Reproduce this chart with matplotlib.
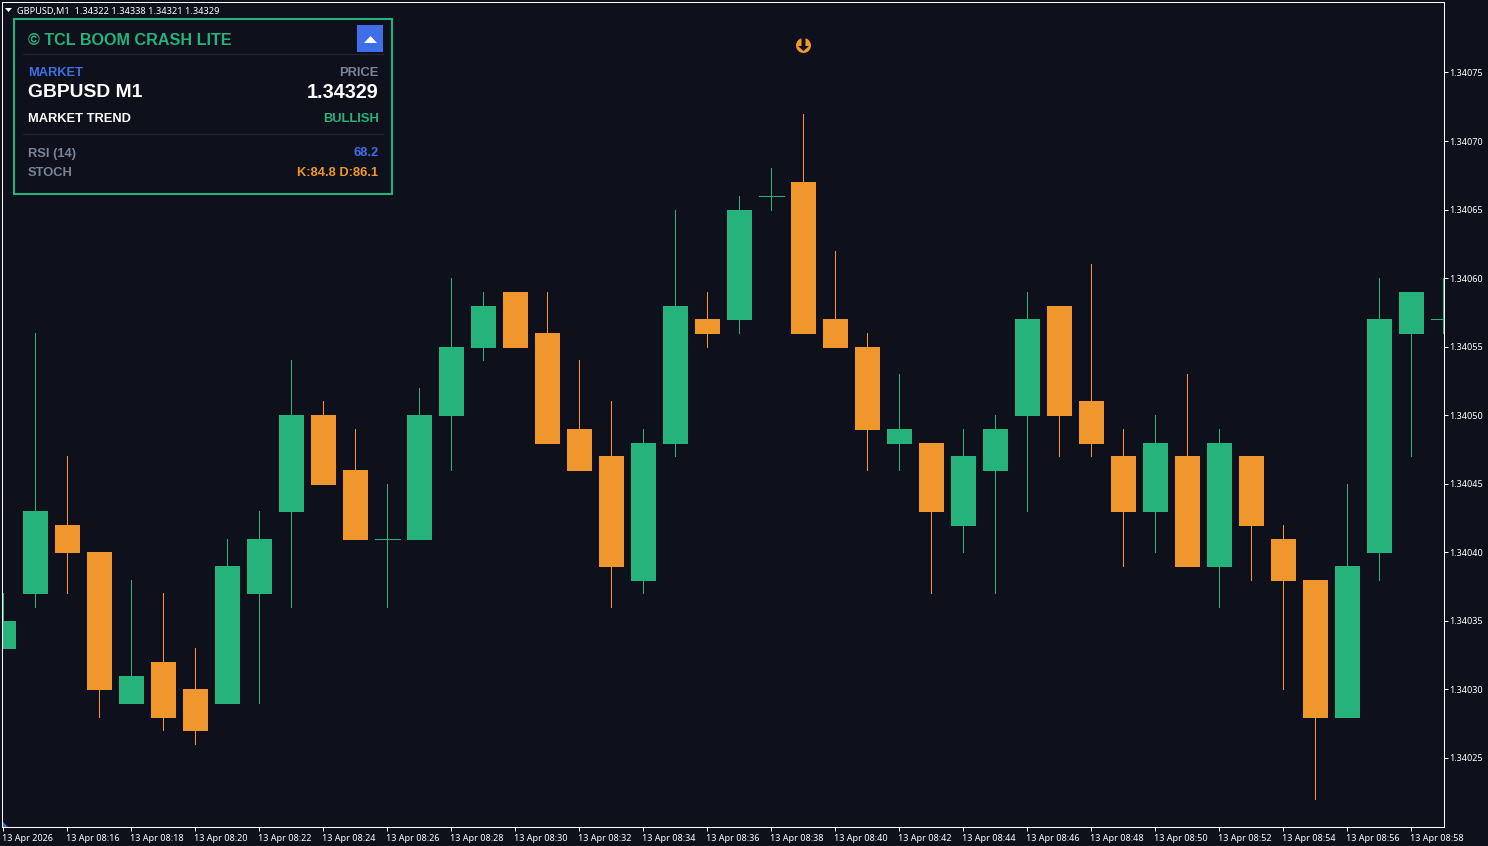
import matplotlib
matplotlib.use("Agg")
import matplotlib.pyplot as plt
from matplotlib.patches import Rectangle, Polygon, Circle
from matplotlib.transforms import ScaledTranslation

BG = '#0e111b'
GREEN = '#25b37b'
ORANGE = '#ef972c'
BLUE = '#3f6fe8'
GREY = '#7a8499'
LINE = '#1f2533'

opens = [1.34033, 1.34037, 1.34042, 1.34040, 1.34029, 1.34032, 1.34030, 1.34029, 1.34037, 1.34043,
         1.34050, 1.34046, 1.34041, 1.34041, 1.34050, 1.34055, 1.34059, 1.34056, 1.34049, 1.34047,
         1.34038, 1.34048, 1.34057, 1.34057, 1.34066, 1.34067, 1.34057, 1.34055, 1.34048, 1.34048,
         1.34042, 1.34046, 1.34050, 1.34058, 1.34051, 1.34047, 1.34043, 1.34047, 1.34039, 1.34047,
         1.34041, 1.34038, 1.34028, 1.34040, 1.34056, 1.34057]
closes = [1.34035, 1.34043, 1.34040, 1.34030, 1.34031, 1.34028, 1.34027, 1.34039, 1.34041, 1.34050,
          1.34045, 1.34041, 1.34041, 1.34050, 1.34055, 1.34058, 1.34055, 1.34048, 1.34046, 1.34039,
          1.34048, 1.34058, 1.34056, 1.34065, 1.34066, 1.34056, 1.34055, 1.34049, 1.34049, 1.34043,
          1.34047, 1.34049, 1.34057, 1.34050, 1.34048, 1.34043, 1.34048, 1.34039, 1.34048, 1.34042,
          1.34038, 1.34028, 1.34039, 1.34057, 1.34059, 1.34057]
highs = [1.34037, 1.34056, 1.34047, 1.34040, 1.34038, 1.34037, 1.34033, 1.34041, 1.34043, 1.34054,
         1.34051, 1.34049, 1.34045, 1.34052, 1.34060, 1.34059, 1.34059, 1.34059, 1.34054, 1.34051,
         1.34049, 1.34065, 1.34059, 1.34066, 1.34068, 1.34072, 1.34062, 1.34056, 1.34053, 1.34048,
         1.34049, 1.34050, 1.34059, 1.34058, 1.34061, 1.34049, 1.34050, 1.34053, 1.34049, 1.34047,
         1.34042, 1.34038, 1.34045, 1.34060, 1.34059, 1.34060]
lows = [1.34033, 1.34036, 1.34037, 1.34028, 1.34029, 1.34027, 1.34026, 1.34029, 1.34029, 1.34036,
        1.34045, 1.34041, 1.34036, 1.34041, 1.34046, 1.34054, 1.34055, 1.34048, 1.34046, 1.34036,
        1.34037, 1.34047, 1.34055, 1.34056, 1.34065, 1.34056, 1.34055, 1.34046, 1.34046, 1.34037,
        1.34040, 1.34037, 1.34043, 1.34047, 1.34047, 1.34039, 1.34040, 1.34039, 1.34036, 1.34038,
        1.34030, 1.34022, 1.34028, 1.34038, 1.34047, 1.34056]

price_ticks = [1.34025, 1.34030, 1.34035, 1.34040, 1.34045, 1.34050, 1.34055, 1.34060, 1.34065, 1.34070, 1.34075]
time_labels = ['13 Apr 2026', '13 Apr 08:16', '13 Apr 08:18', '13 Apr 08:20', '13 Apr 08:22', '13 Apr 08:24',
               '13 Apr 08:26', '13 Apr 08:28', '13 Apr 08:30', '13 Apr 08:32', '13 Apr 08:34', '13 Apr 08:36',
               '13 Apr 08:38', '13 Apr 08:40', '13 Apr 08:42', '13 Apr 08:44', '13 Apr 08:46', '13 Apr 08:48',
               '13 Apr 08:50', '13 Apr 08:52', '13 Apr 08:54', '13 Apr 08:56', '13 Apr 08:58']

W, H = 1488, 846
fig = plt.figure(figsize=(W / 100, H / 100), dpi=100, facecolor=BG)
ax = fig.add_axes([2 / W, 1 - 827 / H, 1442 / W, 825 / H], facecolor=BG)

for i in range(len(opens)):
    c = GREEN if closes[i] >= opens[i] else ORANGE
    ax.vlines(i, lows[i], highs[i], color=c, lw=0.72, antialiased=False)
    if opens[i] == closes[i]:
        ax.hlines(opens[i], i - 0.39, i + 0.39, color=c, lw=0.72, antialiased=False)
    else:
        ax.bar(i, abs(closes[i] - opens[i]), 0.76, bottom=min(opens[i], closes[i]), color=c,
               edgecolor=c, linewidth=0.5, antialiased=False)

ax.set_xlim(-0.0375, 45.025)
ax.set_ylim(1.3401996, 1.3408014)
ax.yaxis.tick_right()
ax.set_yticks(price_ticks)
ax.set_yticklabels(['%.5f' % p for p in price_ticks])
ax.set_xticks(range(0, 46, 2))
ax.set_xticklabels(time_labels, ha='left')
ax.tick_params(colors='white', length=3, width=0.72, labelsize=6.5, pad=2)
ax.tick_params(axis='y', pad=1)
for s in ax.spines.values():
    s.set_color('white')
    s.set_linewidth(0.72)
plt.setp(ax.get_xticklabels() + ax.get_yticklabels(), family='Noto Sans')
for lab in ax.get_xticklabels():
    lab.set_transform(lab.get_transform() + ScaledTranslation(-0.01, 0, fig.dpi_scale_trans))

# overlay in screen pixels for the panel and the small chart objects
ov = fig.add_axes([0, 0, 1, 1])
ov.set_xlim(0, W)
ov.set_ylim(H, 0)
ov.axis('off')

ov.add_patch(Polygon([(5, 8), (12, 8), (8.5, 12)], color='white', lw=0))
ov.text(17, 11.2, 'GBPUSD,M1  1.34322 1.34338 1.34321 1.34329', color='white', fontsize=6.6,
        family='Noto Sans', va='center')
ov.add_patch(Polygon([(3, 822), (3, 827), (8, 827)], color=BLUE, lw=0))

ov.add_patch(Rectangle((14, 19), 378, 175, fc=BG, ec=GREEN, lw=1.5))
ov.plot([23, 383], [54.5, 54.5], color=LINE, lw=0.9)
ov.plot([23, 383], [134.5, 134.5], color=LINE, lw=0.9)
ov.add_patch(Rectangle((357, 25), 26, 27, fc=BLUE, ec='none'))
ov.add_patch(Polygon([(364, 43), (377, 43), (370.5, 36)], color='white', lw=0))


def label(x, y, s, c, size=9.3, ha='left'):
    ov.text(x, y, s, color=c, fontsize=size, ha=ha, va='center', family='Liberation Sans', weight='bold')


label(28, 40.5, '\u00a9 TCL BOOM CRASH LITE', GREEN, 11.6)
label(28, 73.2, 'MARKET', BLUE)
label(378, 73.2, 'PRICE', GREY, ha='right')
label(28, 92.8, 'GBPUSD M1', 'white', 13.9)
label(378, 92.8, '1.34329', 'white', 14.2, 'right')
label(28, 118.8, 'MARKET TREND', 'white')
label(379, 118.8, 'BULLISH', GREEN, ha='right')
label(28, 153.8, 'RSI (14)', GREY)
label(378.5, 153.2, '68.2', BLUE, ha='right')
label(28, 173.2, 'STOCH', GREY)
label(378, 173.2, 'K:84.8 D:86.1', ORANGE, ha='right')

# sell arrow above the high candle
ov.add_patch(Circle((803.5, 45.5), 7.5, fc=ORANGE, ec='none'))
ov.add_patch(Polygon([(801.5, 37), (805.5, 37), (805.5, 46), (809, 46), (803.5, 51), (798, 46), (801.5, 46)], fc=BG, ec='none'))

fig.savefig('out.png', dpi=100, facecolor=BG)
